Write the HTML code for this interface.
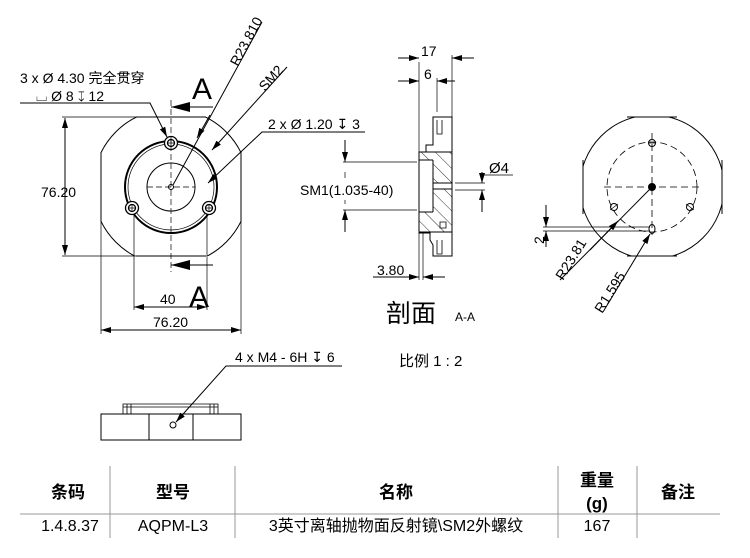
<!DOCTYPE html>
<html><head><meta charset="utf-8"><style>
html,body{margin:0;padding:0;background:#fff;}
svg{display:block;font-family:"Liberation Sans","Noto Sans CJK SC",sans-serif;}
</style></head><body>
<svg width="750" height="558" viewBox="0 0 750 558" xmlns="http://www.w3.org/2000/svg">
<defs>
<marker id="ar" viewBox="0 0 10 6" refX="10" refY="3" markerWidth="10" markerHeight="6" orient="auto-start-reverse" markerUnits="userSpaceOnUse"><path d="M0,0L10,3L0,6z" fill="#000"/></marker>
<pattern id="hat" width="10" height="10" patternUnits="userSpaceOnUse" patternTransform="rotate(-45)"><line x1="0" y1="0" x2="0" y2="10" stroke="#000" stroke-width="0.8"/></pattern>
<clipPath id="c1"><rect x="101" y="117" width="140" height="139"/></clipPath>
<clipPath id="c2"><rect x="583" y="117" width="139" height="139"/></clipPath>
</defs>
<g fill="none" stroke="#000" stroke-width="1">
<circle cx="171" cy="187" r="78" clip-path="url(#c1)"/>
<line x1="101" y1="152" x2="101" y2="222"/><line x1="241" y1="152" x2="241" y2="222"/>
<line x1="136" y1="117" x2="206" y2="117"/><line x1="136" y1="256" x2="206" y2="256"/>
<circle cx="171" cy="187" r="46" stroke-width="2"/>
<circle cx="171" cy="187" r="43" stroke-width="0.7"/>
<circle cx="171" cy="187" r="24"/>
<circle cx="171" cy="187" r="2.5"/>
<g stroke-width="1.3">
<circle cx="171" cy="143" r="6.5" fill="#fff"/><circle cx="171" cy="143" r="3.5"/>
<circle cx="132" cy="208" r="6.5" fill="#fff"/><circle cx="132" cy="208" r="3.5"/>
<circle cx="209" cy="208" r="6.5" fill="#fff"/><circle cx="209" cy="208" r="3.5"/>
</g>
<path d="M168,143h6M171,140v6M129,208h6M132,205v6M206,208h6M209,205v6" stroke-width="0.7"/>
<line x1="171" y1="100" x2="171" y2="272" stroke-dasharray="6,3" stroke-width="0.7"/>
<line x1="147" y1="187" x2="195" y2="187" stroke-dasharray="6,3" stroke-width="0.7"/>
<line x1="171" y1="107" x2="213" y2="107"/>
<line x1="171" y1="265" x2="213" y2="265"/>
<line x1="62" y1="117" x2="200" y2="117" stroke-width="0.7"/>
<line x1="62" y1="256" x2="150" y2="256" stroke-width="0.7"/>
<line x1="65" y1="118" x2="65" y2="255" marker-start="url(#ar)" marker-end="url(#ar)"/>
<line x1="134" y1="214" x2="134" y2="310" stroke-width="0.7"/>
<line x1="207" y1="214" x2="207" y2="310" stroke-width="0.7"/>
<line x1="134" y1="307" x2="207" y2="307" marker-start="url(#ar)" marker-end="url(#ar)"/>
<line x1="101" y1="222" x2="101" y2="334" stroke-width="0.7"/>
<line x1="241" y1="222" x2="241" y2="334" stroke-width="0.7"/>
<line x1="101" y1="330" x2="241" y2="330" marker-start="url(#ar)" marker-end="url(#ar)"/>
<polyline points="20,103 150,103 167,137" marker-end="url(#ar)"/>
<line x1="262" y1="22" x2="173" y2="185"/>
<line x1="210" y1="115" x2="197" y2="138" marker-end="url(#ar)"/>
<line x1="287" y1="67" x2="212" y2="150" marker-end="url(#ar)"/>
<polyline points="365,132 262,132 208,183" marker-end="url(#ar)"/>
<path d="M433,117H452V256H433V245L430,240V233H419V152H426V145H433Z" fill="#fff"/>
<path d="M419,152H452V232H419Z" fill="url(#hat)" stroke="none"/>
<rect x="419" y="160" width="14" height="52" fill="#fff" stroke="none"/>
<path d="M419,152H452V232H419Z"/>
<line x1="419" y1="160" x2="433" y2="160"/><line x1="419" y1="212" x2="433" y2="212"/>
<line x1="433" y1="160" x2="433" y2="212"/>
<rect x="433" y="183" width="19" height="6" fill="#fff"/>
<path d="M437,120v14h5v-14M437,240v14h5v-14M440,222h6v6h-6z" stroke-width="0.8"/>
<line x1="419" y1="62" x2="419" y2="280" stroke-width="0.7"/>
<line x1="452" y1="55" x2="452" y2="117" stroke-width="0.7"/>
<line x1="423" y1="232" x2="423" y2="280" stroke-width="0.7"/>
<line x1="437" y1="78" x2="437" y2="112" stroke-width="0.7"/>
<line x1="398" y1="58" x2="419" y2="58" marker-end="url(#ar)"/>
<line x1="474" y1="58" x2="452" y2="58" marker-end="url(#ar)"/>
<line x1="398" y1="81" x2="419" y2="81" marker-end="url(#ar)"/>
<line x1="455" y1="81" x2="437" y2="81" marker-end="url(#ar)"/>
<line x1="373" y1="277" x2="419" y2="277" marker-end="url(#ar)"/>
<line x1="445" y1="277" x2="423" y2="277" marker-end="url(#ar)"/>
<line x1="343" y1="162" x2="417" y2="162" stroke-width="0.7"/>
<line x1="343" y1="210" x2="417" y2="210" stroke-width="0.7"/>
<line x1="345" y1="140" x2="345" y2="162" marker-end="url(#ar)"/>
<line x1="345" y1="232" x2="345" y2="210" marker-end="url(#ar)"/>
<line x1="345" y1="172" x2="345" y2="178" stroke-width="0.7"/>
<line x1="345" y1="200" x2="345" y2="204" stroke-width="0.7"/>
<line x1="455" y1="183" x2="485" y2="183" stroke-width="0.7"/>
<line x1="455" y1="190" x2="485" y2="190" stroke-width="0.7"/>
<line x1="482" y1="172" x2="482" y2="183" marker-end="url(#ar)"/>
<line x1="482" y1="212" x2="482" y2="190" marker-end="url(#ar)"/>
<line x1="482" y1="175" x2="513" y2="175" stroke-width="0.7"/>
<circle cx="652" cy="187" r="72" clip-path="url(#c2)"/>
<line x1="583" y1="160" x2="583" y2="214"/><line x1="722" y1="160" x2="722" y2="214"/>
<line x1="627" y1="117" x2="677" y2="117"/><line x1="627" y1="256" x2="677" y2="256"/>
<circle cx="652" cy="187" r="45" stroke-dasharray="7,4" stroke-width="0.8"/>
<line x1="604" y1="187" x2="702" y2="187" stroke-dasharray="7,4" stroke-width="0.8"/>
<line x1="652" y1="133" x2="652" y2="235" stroke-dasharray="7,4" stroke-width="0.8"/>
<circle cx="652" cy="187" r="3.5" fill="#000"/>
<circle cx="652" cy="143" r="3.5"/><circle cx="614" cy="207" r="3.5"/><circle cx="690" cy="207" r="3.5"/>
<path d="M648,143h8M610,210l8,-6M686,204l8,6" stroke-width="0.7"/>
<ellipse cx="652" cy="229" rx="3" ry="4.5"/>
<line x1="543" y1="227" x2="650" y2="227" stroke-width="0.7"/>
<line x1="543" y1="231" x2="650" y2="231" stroke-width="0.7"/>
<line x1="546" y1="205" x2="546" y2="227" marker-end="url(#ar)"/>
<line x1="546" y1="247" x2="546" y2="231" marker-end="url(#ar)"/>
<line x1="560" y1="280" x2="650" y2="189"/>
<line x1="590" y1="250" x2="618" y2="221" marker-end="url(#ar)"/>
<line x1="603" y1="312" x2="650" y2="234" marker-end="url(#ar)"/>
<rect x="101" y="414" width="140" height="26"/>
<line x1="149" y1="414" x2="149" y2="440"/><line x1="193" y1="414" x2="193" y2="440"/>
<path d="M123,414V404H218V414M123,407H218M127,404v10M131,404v10M210,404v10M214,404v10" stroke-width="0.8"/>
<circle cx="173" cy="425" r="3"/>
<polyline points="342,366 226,366 176,422" marker-end="url(#ar)"/>
<g stroke="#999">
<line x1="20" y1="514" x2="720" y2="514"/>
<line x1="110" y1="466" x2="110" y2="538"/>
<line x1="235" y1="466" x2="235" y2="538"/>
<line x1="558" y1="466" x2="558" y2="538"/>
<line x1="637" y1="466" x2="637" y2="538"/>
</g>
</g>
<g fill="#000">
<path d="M171,107L190,102L190,112Z"/><path d="M171,265L190,260L190,270Z"/>
<g font-size="14">
<text x="20" y="83">3 x Ø 4.30 完全贯穿</text>
<text x="36" y="101">⌴ Ø 8 ↧ 12</text>
<text x="268" y="129">2 x Ø 1.20 ↧ 3</text>
<text x="41" y="197">76.20</text>
<text x="160" y="304">40</text>
<text x="153" y="327">76.20</text>
<text transform="translate(238,67) rotate(-62)">R23.810</text>
<text transform="translate(265,92) rotate(-48)">SM2</text>
<text x="421" y="56">17</text>
<text x="424" y="79">6</text>
<text x="300" y="195">SM1(1.035-40)</text>
<text x="489" y="173" font-size="15">Ø4</text>
<text x="377" y="275">3.80</text>
<text transform="translate(544,244) rotate(-90)">2</text>
<text transform="translate(563,281) rotate(-58)">R23.81</text>
<text transform="translate(602,314) rotate(-58)">R1.595</text>
<text x="235" y="362">4 x M4 - 6H ↧ 6</text>
<text x="399" y="366" font-size="15">比例  1 : 2</text>
<text x="455" y="321" font-size="12">A-A</text>
</g>
<text x="192" y="99" font-size="30">A</text>
<text x="189" y="307" font-size="30">A</text>
<text x="386" y="322" font-size="25">剖面</text>
<g font-size="17" font-weight="bold" text-anchor="middle">
<text x="68" y="498">条码</text>
<text x="173" y="498">型号</text>
<text x="396" y="498">名称</text>
<text x="597" y="486">重量</text>
<text x="597" y="509">(g)</text>
<text x="678" y="498">备注</text>
</g>
<g font-size="16" text-anchor="middle">
<text x="70" y="531">1.4.8.37</text>
<text x="173" y="531">AQPM-L3</text>
<text x="396" y="531">3英寸离轴抛物面反射镜\SM2外螺纹</text>
<text x="597" y="531">167</text>
</g>
</g>
</svg>
</body></html>
